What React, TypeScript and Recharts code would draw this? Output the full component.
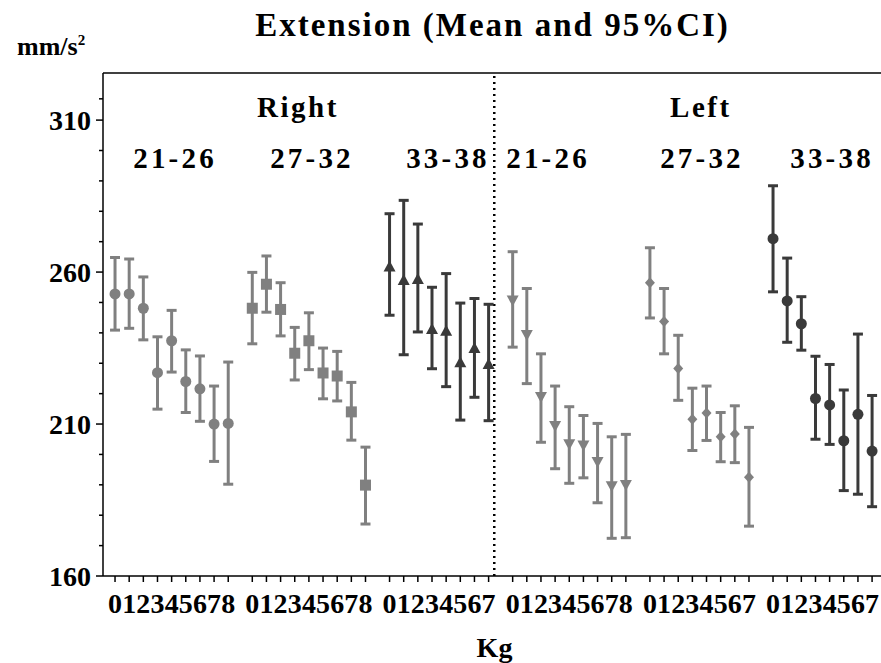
import { ScatterChart, Scatter, XAxis, YAxis, ErrorBar, ReferenceLine, ReferenceDot } from 'recharts';

// Right side, age groups
const r1Mean = [252.8, 252.8, 248.1, 226.9, 237.4, 224.0, 221.6, 210.0, 210.2];
const r1Low = [240.9, 241.5, 237.7, 214.9, 227.1, 213.8, 210.9, 197.7, 190.2];
const r1High = [264.8, 264.3, 258.4, 238.7, 247.4, 234.4, 232.4, 222.5, 230.4];

const r2Mean = [248.1, 256.0, 247.7, 233.3, 237.4, 226.8, 225.8, 214.0, 189.9];
const r2Low = [236.4, 246.8, 239.0, 224.5, 227.9, 218.3, 217.6, 204.7, 177.1];
const r2High = [259.9, 265.3, 256.5, 241.8, 246.6, 235.0, 233.9, 223.7, 202.4];

const r3Mean = [261.5, 257.1, 257.4, 240.9, 240.4, 230.0, 234.7, 229.4];
const r3Low = [245.8, 232.8, 240.3, 228.2, 222.3, 211.3, 218.8, 211.1];
const r3High = [279.2, 283.6, 275.8, 255.0, 259.5, 249.8, 251.3, 249.4];

// Left side, age groups
const l1Mean = [251.0, 239.6, 219.2, 209.7, 203.7, 203.3, 197.8, 189.9, 190.3];
const l1Low = [235.3, 223.3, 204.0, 195.3, 190.5, 192.3, 184.1, 172.4, 172.6];
const l1High = [266.7, 254.6, 233.1, 222.5, 215.7, 212.8, 210.2, 205.8, 206.6];

const l2Mean = [256.5, 243.7, 228.3, 211.6, 213.6, 205.8, 206.7, 192.5];
const l2Low = [244.9, 233.1, 217.8, 201.3, 204.6, 197.6, 197.3, 176.4];
const l2High = [268.0, 254.6, 239.2, 221.8, 222.5, 213.8, 216.0, 208.9];

const l3Mean = [271.0, 250.5, 243.0, 218.4, 216.3, 204.5, 213.2, 201.1];
const l3Low = [253.5, 236.9, 234.3, 205.0, 203.3, 188.1, 186.9, 182.8];
const l3High = [288.4, 264.6, 251.9, 232.3, 229.6, 221.2, 239.6, 219.4];

const ageLabels = ['21-26', '27-32', '33-38', '21-26', '27-32', '33-38'];
const sideLabels = ['Right', 'Left'];
const yTicks = [160, 170, 180, 190, 200, 210, 220, 230, 240, 250, 260, 270, 280, 290, 300, 310, 317];
const yMajor = [160, 210, 260, 310];

const GRAY = '#808080';
const DARK = '#3a3a3a';
const FONT = "'Liberation Serif', 'Times New Roman', serif";

// where each group starts along the x axis, and where the labels sit
const groupStart = [0, 9.7, 19.4, 28.1, 37.8, 46.5];
const ageLabelX = [4.24, 13.92, 23.53, 30.6, 41.48, 50.67];
const sideLabelX = [12.93, 41.4];

type Shape = 'circle' | 'square' | 'up' | 'down' | 'diamond';

const series: { mean: number[]; low: number[]; high: number[]; color: string; shape: Shape }[] = [
  { mean: r1Mean, low: r1Low, high: r1High, color: GRAY, shape: 'circle' },
  { mean: r2Mean, low: r2Low, high: r2High, color: GRAY, shape: 'square' },
  { mean: r3Mean, low: r3Low, high: r3High, color: DARK, shape: 'up' },
  { mean: l1Mean, low: l1Low, high: l1High, color: GRAY, shape: 'down' },
  { mean: l2Mean, low: l2Low, high: l2High, color: GRAY, shape: 'diamond' },
  { mean: l3Mean, low: l3Low, high: l3High, color: DARK, shape: 'circle' },
];

const seriesData = series.map((s, g) =>
  s.mean.map((m, i) => ({ x: groupStart[g] + i, y: m, kg: i, err: [m - s.low[i], s.high[i] - m] }))
);

const xTicks = seriesData.flatMap((d) => d.map((p) => p.x));
const xTickLabels = seriesData.flatMap((d) => d.map((p) => String(p.kg)));

function marker(shape: Shape, color: string) {
  return (props: any) => {
    const { cx, cy } = props;
    if (shape === 'circle') return <circle cx={cx} cy={cy} r={5.5} fill={color} />;
    if (shape === 'square') return <rect x={cx - 5.5} y={cy - 5.5} width={11} height={11} fill={color} />;
    if (shape === 'up')
      return <polygon points={`${cx},${cy - 7} ${cx + 6},${cy + 4} ${cx - 6},${cy + 4}`} fill={color} />;
    if (shape === 'down')
      return <polygon points={`${cx},${cy + 7} ${cx + 6},${cy - 4} ${cx - 6},${cy - 4}`} fill={color} />;
    return <polygon points={`${cx},${cy - 5.5} ${cx + 5},${cy} ${cx},${cy + 5.5} ${cx - 5},${cy}`} fill={color} />;
  };
}

const XTick = (props: any) => {
  const { x, y, index } = props;
  return (
    <text x={x} y={y + 31} textAnchor="middle" fontFamily={FONT} fontWeight="bold" fontSize={28} fill="#000">
      {xTickLabels[index]}
    </text>
  );
};

const YTick = (props: any) => {
  const { x, y, payload } = props;
  const major = yMajor.includes(payload.value);
  return (
    <g>
      <line x1={x - (major ? 7 : 4)} x2={x} y1={y} y2={y} stroke="#000" strokeWidth={1.5} />
      {major && (
        <text x={x - 12} y={y + 9.5} textAnchor="end" fontFamily={FONT} fontWeight="bold" fontSize={28} fill="#000">
          {payload.value}
        </text>
      )}
    </g>
  );
};

const textShape = (label: string, size: number, spacing: number) => (props: any) => (
  <text
    x={props.cx}
    y={props.cy}
    textAnchor="middle"
    fontFamily={FONT}
    fontWeight="bold"
    fontSize={size}
    letterSpacing={spacing}
    fill="#000"
  >
    {label}
  </text>
);

export default function App() {
  return (
    <div style={{ position: 'absolute', left: 0, top: 0, width: 881, height: 663, background: '#fff' }}>
      <ScatterChart width={881} height={663} margin={{ top: 73, right: 0, bottom: 0, left: 0 }}>
        <XAxis
          type="number"
          dataKey="x"
          domain={[-0.85, 54.13]}
          ticks={xTicks}
          interval={0}
          height={87}
          tickSize={6}
          tickMargin={0}
          allowDataOverflow
          axisLine={{ stroke: '#000', strokeWidth: 1.5 }}
          tickLine={{ stroke: '#000', strokeWidth: 1.5 }}
          tick={<XTick />}
        />
        <YAxis
          type="number"
          dataKey="y"
          domain={[160, 325.5]}
          ticks={yTicks}
          interval={0}
          width={103}
          tickSize={0}
          tickMargin={0}
          allowDataOverflow
          axisLine={{ stroke: '#000', strokeWidth: 1.5 }}
          tickLine={false}
          tick={<YTick />}
        />
        <ReferenceLine y={325.5} stroke="#000" strokeWidth={1.5} ifOverflow="visible" />
        <ReferenceLine x={26.8} stroke="#000" strokeWidth={2.5} strokeDasharray="2 4" ifOverflow="visible" />
        {series.map((s, g) => (
          <Scatter
            key={g}
            data={seriesData[g]}
            fill={s.color}
            shape={marker(s.shape, s.color)}
            isAnimationActive={false}
          >
            <ErrorBar dataKey="err" direction="y" width={5} stroke={s.color} strokeWidth={3} isAnimationActive={false} />
          </Scatter>
        ))}
        {sideLabels.map((l, i) => (
          <ReferenceDot key={l} x={sideLabelX[i]} y={311} r={0} shape={textShape(l, 29, 2.5)} />
        ))}
        {ageLabels.map((l, i) => (
          <ReferenceDot key={i} x={ageLabelX[i]} y={294.2} r={0} shape={textShape(l, 29, 3.2)} />
        ))}
      </ScatterChart>
      <svg width={881} height={663} style={{ position: 'absolute', left: 0, top: 0, pointerEvents: 'none' }}>
        <text x={492.5} y={36} textAnchor="middle" fontFamily={FONT} fontWeight="bold" fontSize={33} letterSpacing={2}>
          Extension (Mean and 95%CI)
        </text>
        <text x={17} y={55} fontFamily={FONT} fontWeight="bold" fontSize={26}>
          mm/s<tspan fontSize={15} dy={-10}>2</tspan>
        </text>
        <text x={494.5} y={657} textAnchor="middle" fontFamily={FONT} fontWeight="bold" fontSize={28}>
          Kg
        </text>
      </svg>
    </div>
  );
}
